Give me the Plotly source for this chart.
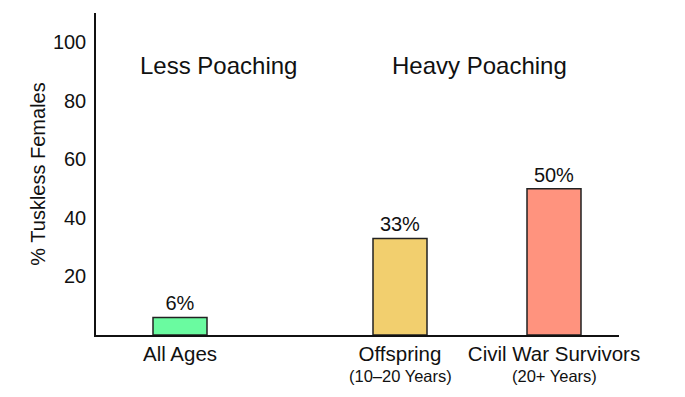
import plotly.graph_objects as go

categories = ["All Ages", "Offspring", "Civil War Survivors"]
sublabels = ["", "(10–20 Years)", "(20+ Years)"]
values = [6, 33, 50]
value_labels = ["6%", "33%", "50%"]
colors = ["#6AFBA0", "#F2CF6E", "#FF937E"]
group_titles = ["Less Poaching", "Heavy Poaching"]
y_ticks = [20, 40, 60, 80, 100]

# layout positions (x axis units = pixels of plot area)
x_pos = [84, 304, 458]
group_x = [122, 383]
FONT = "Liberation Sans, Arial, sans-serif"

fig = go.Figure()
fig.add_trace(go.Bar(
    x=x_pos, y=values, width=54,
    marker=dict(color=colors, line=dict(color="#222222", width=1.5)),
    text=value_labels, textposition="outside", cliponaxis=False,
    textfont=dict(family=FONT, size=20, color="#111111"),
))

for gx, gt in zip(group_x, group_titles):
    fig.add_annotation(x=gx, y=92, text=gt, showarrow=False,
                       font=dict(family=FONT, size=24, color="#111111"))

for xp, sl in zip(x_pos, sublabels):
    if sl:
        fig.add_annotation(x=xp, y=0, yref="y", text=sl, showarrow=False,
                           yshift=-41, font=dict(family=FONT, size=16.5, color="#111111"))

# the page body adds an 8px offset; margins compensate for it
fig.update_layout(
    width=685, height=397,
    margin=dict(l=88, r=74, t=5, b=70),
    paper_bgcolor="white", plot_bgcolor="white",
    showlegend=False,
    font=dict(family=FONT, color="#111111"),
)
fig.update_xaxes(range=[0, 523], tickvals=x_pos, ticktext=categories,
                 showgrid=False, zeroline=False, showline=True, linecolor="#111111",
                 linewidth=1.5, ticks="", automargin=False,
                 tickfont=dict(family=FONT, size=20.5, color="#111111"))
fig.update_yaxes(range=[0, 110], tickvals=y_ticks, showgrid=False, zeroline=False,
                 showline=True, linecolor="#111111", linewidth=1.5, ticks="",
                 ticklabelstandoff=4, automargin=False,
                 tickfont=dict(family=FONT, size=20, color="#111111"),
                 title=dict(text="% Tuskless Females", standoff=2,
                            font=dict(family=FONT, size=20, color="#111111")))

fig.write_html("out.html")
